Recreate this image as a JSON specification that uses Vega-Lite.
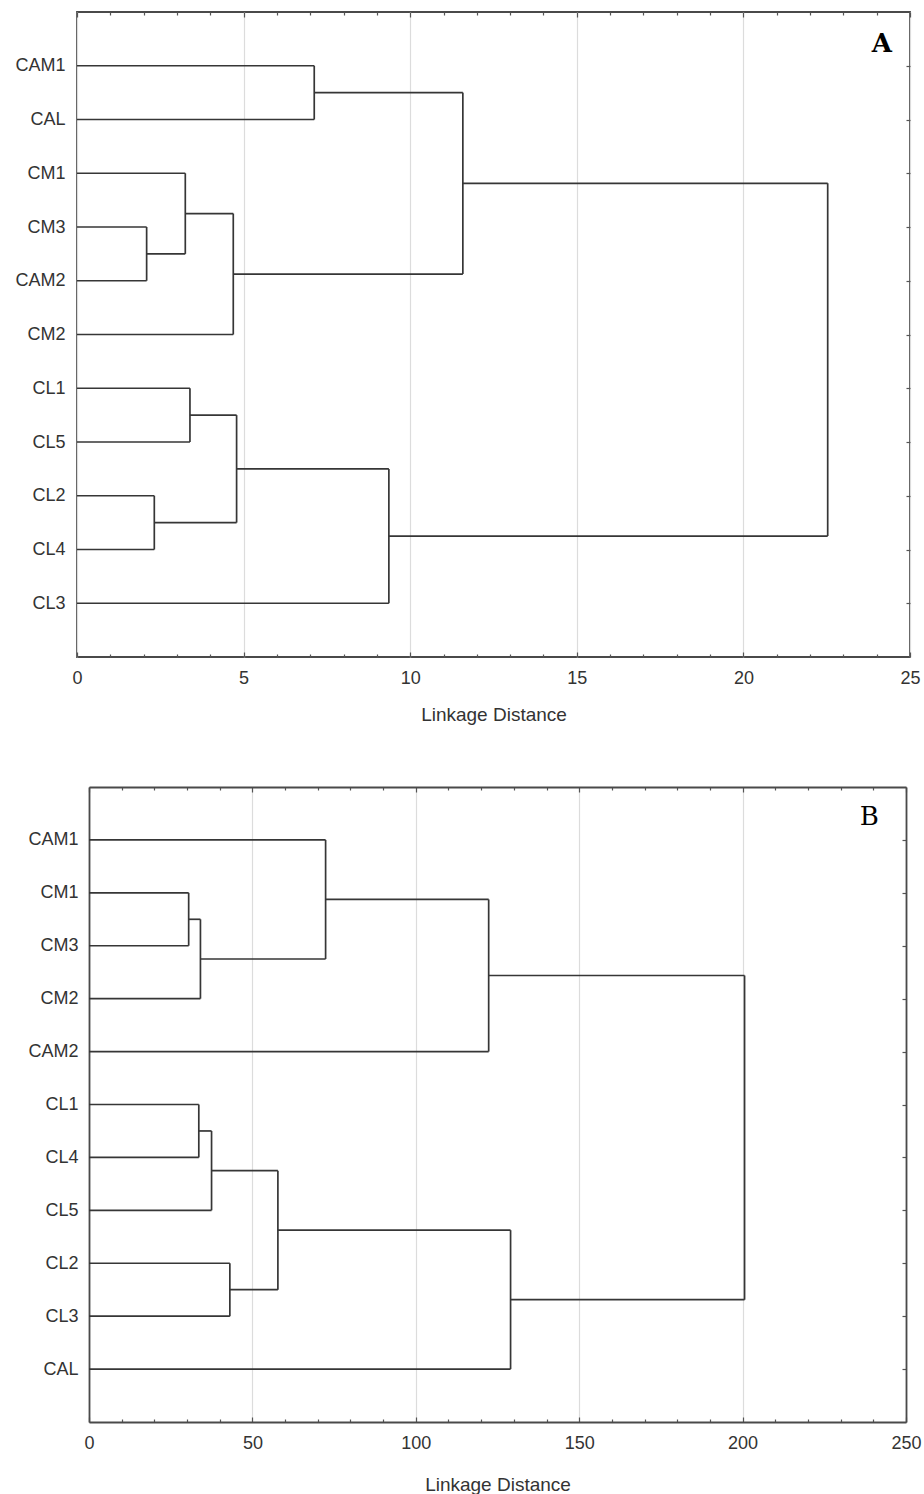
{
  "$schema": "https://vega.github.io/schema/vega-lite/v6.json",
  "padding": {"left": 10, "top": 10, "right": 2, "bottom": 1},
  "background": "white",
  "datasets": {
    "segA": [
      {"x": 0, "x2": 7.12, "y": 1, "y2": 1},
      {"x": 0, "x2": 7.12, "y": 2, "y2": 2},
      {"x": 7.12, "x2": 7.12, "y": 1, "y2": 2},
      {"x": 0, "x2": 2.09, "y": 4, "y2": 4},
      {"x": 0, "x2": 2.09, "y": 5, "y2": 5},
      {"x": 2.09, "x2": 2.09, "y": 4, "y2": 5},
      {"x": 0, "x2": 3.25, "y": 3, "y2": 3},
      {"x": 2.09, "x2": 3.25, "y": 4.5, "y2": 4.5},
      {"x": 3.25, "x2": 3.25, "y": 3, "y2": 4.5},
      {"x": 3.25, "x2": 4.69, "y": 3.75, "y2": 3.75},
      {"x": 0, "x2": 4.69, "y": 6, "y2": 6},
      {"x": 4.69, "x2": 4.69, "y": 3.75, "y2": 6},
      {"x": 7.12, "x2": 11.58, "y": 1.5, "y2": 1.5},
      {"x": 4.69, "x2": 11.58, "y": 4.875, "y2": 4.875},
      {"x": 11.58, "x2": 11.58, "y": 1.5, "y2": 4.875},
      {"x": 0, "x2": 3.39, "y": 7, "y2": 7},
      {"x": 0, "x2": 3.39, "y": 8, "y2": 8},
      {"x": 3.39, "x2": 3.39, "y": 7, "y2": 8},
      {"x": 0, "x2": 2.32, "y": 9, "y2": 9},
      {"x": 0, "x2": 2.32, "y": 10, "y2": 10},
      {"x": 2.32, "x2": 2.32, "y": 9, "y2": 10},
      {"x": 3.39, "x2": 4.79, "y": 7.5, "y2": 7.5},
      {"x": 2.32, "x2": 4.79, "y": 9.5, "y2": 9.5},
      {"x": 4.79, "x2": 4.79, "y": 7.5, "y2": 9.5},
      {"x": 4.79, "x2": 9.36, "y": 8.5, "y2": 8.5},
      {"x": 0, "x2": 9.36, "y": 11, "y2": 11},
      {"x": 9.36, "x2": 9.36, "y": 8.5, "y2": 11},
      {"x": 11.58, "x2": 22.53, "y": 3.1875, "y2": 3.1875},
      {"x": 9.36, "x2": 22.53, "y": 9.75, "y2": 9.75},
      {"x": 22.53, "x2": 22.53, "y": 3.1875, "y2": 9.75}
    ],
    "segB": [
      {"x": 0, "x2": 30.5, "y": 2, "y2": 2},
      {"x": 0, "x2": 30.5, "y": 3, "y2": 3},
      {"x": 30.5, "x2": 30.5, "y": 2, "y2": 3},
      {"x": 30.5, "x2": 34.1, "y": 2.5, "y2": 2.5},
      {"x": 0, "x2": 34.1, "y": 4, "y2": 4},
      {"x": 34.1, "x2": 34.1, "y": 2.5, "y2": 4},
      {"x": 0, "x2": 72.4, "y": 1, "y2": 1},
      {"x": 34.1, "x2": 72.4, "y": 3.25, "y2": 3.25},
      {"x": 72.4, "x2": 72.4, "y": 1, "y2": 3.25},
      {"x": 72.4, "x2": 122.3, "y": 2.125, "y2": 2.125},
      {"x": 0, "x2": 122.3, "y": 5, "y2": 5},
      {"x": 122.3, "x2": 122.3, "y": 2.125, "y2": 5},
      {"x": 0, "x2": 33.6, "y": 6, "y2": 6},
      {"x": 0, "x2": 33.6, "y": 7, "y2": 7},
      {"x": 33.6, "x2": 33.6, "y": 6, "y2": 7},
      {"x": 33.6, "x2": 37.5, "y": 6.5, "y2": 6.5},
      {"x": 0, "x2": 37.5, "y": 8, "y2": 8},
      {"x": 37.5, "x2": 37.5, "y": 6.5, "y2": 8},
      {"x": 0, "x2": 43.1, "y": 9, "y2": 9},
      {"x": 0, "x2": 43.1, "y": 10, "y2": 10},
      {"x": 43.1, "x2": 43.1, "y": 9, "y2": 10},
      {"x": 37.5, "x2": 57.8, "y": 7.25, "y2": 7.25},
      {"x": 43.1, "x2": 57.8, "y": 9.5, "y2": 9.5},
      {"x": 57.8, "x2": 57.8, "y": 7.25, "y2": 9.5},
      {"x": 57.8, "x2": 129.0, "y": 8.375, "y2": 8.375},
      {"x": 0, "x2": 129.0, "y": 11, "y2": 11},
      {"x": 129.0, "x2": 129.0, "y": 8.375, "y2": 11},
      {"x": 122.3, "x2": 200.6, "y": 3.5625, "y2": 3.5625},
      {"x": 129.0, "x2": 200.6, "y": 9.6875, "y2": 9.6875},
      {"x": 200.6, "x2": 200.6, "y": 3.5625, "y2": 9.6875}
    ]
  },
  "vconcat": [
    {
      "width": 833,
      "height": 645,
      "data": {"name": "segA"},
      "layer": [
        {
          "mark": {"type": "rule", "color": "#363636", "strokeWidth": 1.7},
          "encoding": {
            "x": {"field": "x", "type": "quantitative", "scale": {"domain": [0, 25], "nice": false},
              "axis": {"orient": "bottom", "values": [0,1,2,3,4,5,6,7,8,9,10,11,12,13,14,15,16,17,18,19,20,21,22,23,24,25],
                "labelExpr": "datum.value % 5 === 0 ? datum.label : ''", "labelOverlap": false, "labelFlush": false,
                "grid": true, "gridOpacity": {"condition": {"test": "datum.value % 5 === 0", "value": 1}, "value": 0},
                "tickSize": {"condition": {"test": "datum.value % 5 === 0", "value": -5}, "value": -3},
                "labelPadding": 17, "title": "Linkage Distance", "titlePadding": 16}},
            "x2": {"field": "x2"},
            "y": {"field": "y", "type": "quantitative", "scale": {"domain": [0, 12], "reverse": true, "nice": false},
              "axis": {"orient": "left", "values": [1,2,3,4,5,6,7,8,9,10,11],
                "labelExpr": "['','CAM1','CAL','CM1','CM3','CAM2','CM2','CL1','CL5','CL2','CL4','CL3',''][datum.value]",
                "ticks": false, "grid": false, "labelPadding": 12, "title": null, "minExtent": 66, "labelOverlap": false, "labelFlush": false}},
            "y2": {"field": "y2"}
          }
        },
        {
          "mark": {"type": "rule", "opacity": 0},
          "encoding": {
            "x": {"field": "x", "type": "quantitative",
              "axis": {"orient": "top", "values": [0,1,2,3,4,5,6,7,8,9,10,11,12,13,14,15,16,17,18,19,20,21,22,23,24,25],
                "labels": false, "grid": false, "title": null,
                "tickSize": {"condition": {"test": "datum.value % 5 === 0", "value": -5}, "value": -3}}},
            "x2": {"field": "x2"},
            "y": {"field": "y", "type": "quantitative",
              "axis": {"orient": "right", "values": [1,2,3,4,5,6,7,8,9,10,11], "labels": false, "grid": false, "title": null, "tickSize": -4}},
            "y2": {"field": "y2"}
          }
        },
        {
          "data": {"values": [{"panel": "A"}]},
          "mark": {"type": "text", "font": "DejaVu Serif", "fontSize": 26, "fontWeight": "bold", "color": "#000", "align": "right", "baseline": "top"},
          "encoding": {
            "text": {"field": "panel"},
            "x": {"datum": 24.46, "type": "quantitative", "axis": null},
            "y": {"datum": 0.36, "type": "quantitative", "axis": null}
          }
        }
      ],
      "resolve": {"axis": {"x": "independent", "y": "independent"}}
    },
    {
      "width": 829,
      "height": 635,
      "view": {"stroke": null},
      "data": {"name": "segB"},
      "layer": [
        {
          "mark": {"type": "rule", "color": "#363636", "strokeWidth": 1.7},
          "encoding": {
            "x": {"field": "x", "type": "quantitative", "scale": {"domain": [0, 250], "nice": false, "range": [12, 829]},
              "axis": {"orient": "bottom", "values": [0,10,20,30,40,50,60,70,80,90,100,110,120,130,140,150,160,170,180,190,200,210,220,230,240,250],
                "labelExpr": "datum.value % 50 === 0 ? datum.label : ''", "labelOverlap": false, "labelFlush": false,
                "domain": true, "domainColor": "#4a4a4a", "domainWidth": 1.8,
                "grid": true, "gridOpacity": {"condition": {"test": "datum.value % 50 === 0", "value": 1}, "value": 0},
                "tickSize": {"condition": {"test": "datum.value % 50 === 0", "value": -5}, "value": -3},
                "labelPadding": 17, "title": "Linkage Distance", "titlePadding": 21}},
            "x2": {"field": "x2"},
            "y": {"field": "y", "type": "quantitative", "scale": {"domain": [0, 12], "reverse": true, "nice": false},
              "axis": {"orient": "left", "offset": -12, "values": [1,2,3,4,5,6,7,8,9,10,11],
                "labelExpr": "['','CAM1','CM1','CM3','CM2','CAM2','CL1','CL4','CL5','CL2','CL3','CAL',''][datum.value]",
                "domain": true, "domainColor": "#4a4a4a", "domainWidth": 1.8,
                "ticks": false, "grid": false, "labelPadding": 11, "title": null, "labelOverlap": false, "labelFlush": false}},
            "y2": {"field": "y2"}
          }
        },
        {
          "mark": {"type": "rule", "opacity": 0},
          "encoding": {
            "x": {"field": "x", "type": "quantitative",
              "axis": {"orient": "top", "values": [0,10,20,30,40,50,60,70,80,90,100,110,120,130,140,150,160,170,180,190,200,210,220,230,240,250],
                "labels": false, "grid": false, "title": null,
                "domain": true, "domainColor": "#4a4a4a", "domainWidth": 1.8,
                "tickSize": {"condition": {"test": "datum.value % 50 === 0", "value": -5}, "value": -3}}},
            "x2": {"field": "x2"},
            "y": {"field": "y", "type": "quantitative",
              "axis": {"orient": "right", "values": [1,2,3,4,5,6,7,8,9,10,11], "labels": false, "grid": false, "title": null, "tickSize": -4,
                "domain": true, "domainColor": "#4a4a4a", "domainWidth": 1.8}},
            "y2": {"field": "y2"}
          }
        },
        {
          "data": {"values": [{"panel": "B"}]},
          "mark": {"type": "text", "font": "DejaVu Serif", "fontSize": 26, "fontWeight": "normal", "color": "#000", "align": "right", "baseline": "top"},
          "encoding": {
            "text": {"field": "panel"},
            "x": {"datum": 241.7, "type": "quantitative", "axis": null},
            "y": {"datum": 0.33, "type": "quantitative", "axis": null}
          }
        }
      ],
      "resolve": {"axis": {"x": "independent", "y": "independent"}}
    }
  ],
  "spacing": 61,
  "config": {
    "view": {"stroke": "#4a4a4a", "strokeWidth": 1.8},
    "axis": {
      "labelFont": "Liberation Sans", "labelFontSize": 18, "labelColor": "#333",
      "titleFont": "Liberation Sans", "titleFontSize": 19, "titleFontWeight": "normal", "titleColor": "#333",
      "domain": false, "tickColor": "#555", "tickWidth": 1.2, "gridColor": "#dcdcdc", "gridWidth": 1.2
    }
  }
}
